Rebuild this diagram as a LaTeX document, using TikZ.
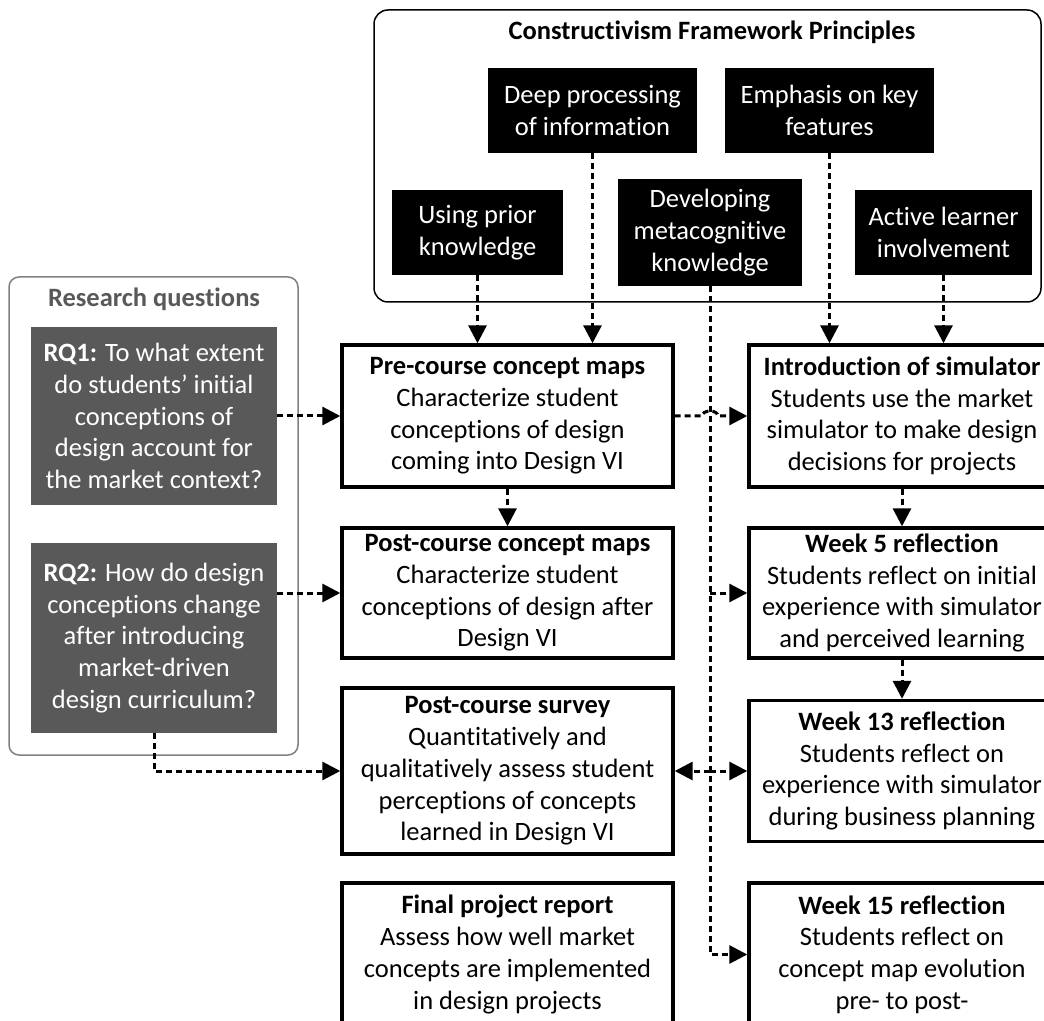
\documentclass[tikz,border=0pt]{standalone}
\usepackage{fontspec}
\setmainfont{Carlito}[Ligatures=NoCommon]
\usetikzlibrary{arrows.meta,calc}

\definecolor{rqgrey}{HTML}{595959}
\definecolor{framegrey}{HTML}{808080}

\begin{document}
\begin{tikzpicture}[
  x=1pt, y=1pt,
  font=\fontsize{13.25}{15.85}\selectfont,
  frame/.style={draw, rounded corners=7pt, line width=0.75pt},
  principle/.style={fill=black, text=white, align=center, inner sep=1pt},
  rq/.style={fill=rqgrey, text=white, align=center, inner sep=1pt, minimum width=123pt},
  stage/.style={draw, line width=1.7pt, fill=white, align=center, inner sep=1pt},
  flow/.style={line width=1.5pt, dash pattern=on 3pt off 2pt},
  tip/.style={-{Triangle[length=9pt,width=9pt]}}
]
  \useasboundingbox (0,0) rectangle (522,-510.5);
  \clip (0,0) rectangle (522,-510.5);

  % Framework principles
  \node[frame, minimum width=333.5pt, minimum height=146pt] (cframe) at (353.75,-78) {};
  \node (ctitle) at (356,-16) {\textbf{Constructivism Framework Principles}};
  \node[principle, minimum width=104.5pt, minimum height=42.5pt] (deep) at (296.25,-55.25) {Deep processing\\of information};
  \node[principle, minimum width=104.5pt, minimum height=42.5pt] (emph) at (414.75,-55.25) {Emphasis on key\\features};
  \node[principle, minimum width=85.5pt, minimum height=42.5pt] (prior) at (238.75,-116.25) {Using prior\\knowledge};
  \node[principle, minimum width=92pt, minimum height=53.5pt] (meta) at (355,-116.25) {Developing\\metacognitive\\knowledge};
  \node[principle, minimum width=88.5pt, minimum height=42.5pt] (active) at (471.75,-116.25) {Active learner\\involvement};

  % Research questions
  \node[frame, draw=framegrey, rounded corners=5pt, minimum width=144.5pt, minimum height=239pt] (rqframe) at (76.75,-258) {};
  \node[text=rqgrey] (rqtitle) at (77,-149.5) {\textbf{Research questions}};
  \node[rq, minimum height=88.5pt] (rq1) at (77,-208) {\textbf{RQ1:} To what extent\\do students’ initial\\conceptions of\\design account for\\the market context?};
  \node[rq, minimum height=95pt] (rq2) at (77,-319) {\textbf{RQ2:} How do design\\conceptions change\\after introducing\\market-driven\\design curriculum?};

  % Course measures (left column)
  \node[stage, minimum width=165.5pt, minimum height=71pt] (pre) at (253.75,-208) {\textbf{Pre-course concept maps}\\Characterize student\\conceptions of design\\coming into Design VI};
  \node[stage, minimum width=165.5pt, minimum height=65pt] (postmap) at (253.75,-296.5) {\textbf{Post-course concept maps}\\Characterize student\\conceptions of design after\\Design VI};
  \node[stage, minimum width=165.5pt, minimum height=83pt] (survey) at (253.75,-385.5) {\textbf{Post-course survey}\\Quantitatively and\\qualitatively assess student\\perceptions of concepts\\learned in Design VI};
  \node[stage, minimum width=165.5pt, minimum height=71.5pt] (final) at (253.75,-477.25) {\textbf{Final project report}\\Assess how well market\\concepts are implemented\\in design projects};

  % Simulator reflections (right column)
  \node[stage, minimum width=153pt, minimum height=71pt] (intro) at (451,-208) {\textbf{Introduction of simulator}\\Students use the market\\simulator to make design\\decisions for projects};
  \node[stage, minimum width=153pt, minimum height=65pt] (wk5) at (451,-296.5) {\textbf{Week 5 reflection}\\Students reflect on initial\\experience with simulator\\and perceived learning};
  \node[stage, minimum width=153pt, minimum height=70.5pt] (wk13) at (451,-385.5) {\textbf{Week 13 reflection}\\Students reflect on\\experience with simulator\\during business planning};
  \node[stage, minimum width=153pt, minimum height=71.5pt] (wk15) at (451,-477.25) {\textbf{Week 15 reflection}\\Students reflect on\\concept map evolution\\pre- to post-};

  % Principles into activities
  \draw[flow, tip] (prior.south) -- (prior.south |- pre.north);
  \draw[flow, tip] (deep.south) -- (deep.south |- pre.north);
  \draw[flow, tip] (emph.south) -- (emph.south |- intro.north);
  \draw[flow, tip] (active.south) -- (active.south |- intro.north);

  % Metacognition line with branches
  \draw[flow, tip] (meta.south) |- (wk15.west);
  \draw[flow, tip] (meta.south |- wk5.west) -- (wk5.west);
  \draw[flow, tip] (meta.south |- wk13.west) -- (wk13.west);
  \draw[flow, tip] (meta.south |- survey.east) -- (survey.east);

  % Sequence arrows
  \draw[flow, tip] (pre.east) -- ($(meta.south |- pre.east)+(-4,0)$)
    arc[start angle=180, end angle=0, x radius=4pt, y radius=2.5pt] -- (intro.west);
  \draw[flow, tip] (pre.south) -- (postmap.north);
  \draw[flow, tip] (intro.south) -- (wk5.north);
  \draw[flow, tip] (wk5.south) -- (wk13.north);

  % Research questions to measures
  \draw[flow, tip] (rq1.east) -- (pre.west);
  \draw[flow, tip] (rq2.east |- postmap.west) -- (postmap.west);
  \draw[flow, tip] (rq2.south) |- (survey.west);
\end{tikzpicture}
\end{document}
